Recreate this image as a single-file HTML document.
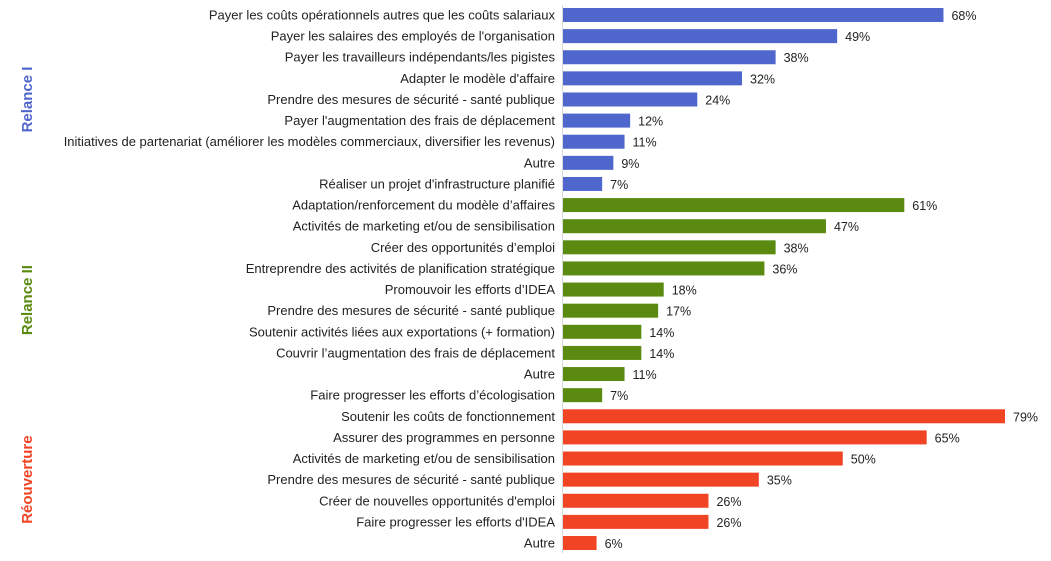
<!DOCTYPE html>
<html><head><meta charset="utf-8"><style>
body{margin:0;background:#fff;}
svg{display:block;font-family:"Liberation Sans",sans-serif;}
</style></head><body>
<svg id="chart" width="1051" height="561" viewBox="0 0 1051 561"></svg>
<script>
const labels = [
"Payer les coûts opérationnels autres que les coûts salariaux",
"Payer les salaires des employés de l'organisation",
"Payer les travailleurs indépendants/les pigistes",
"Adapter le modèle d'affaire",
"Prendre des mesures de sécurité - santé publique",
"Payer l'augmentation des frais de déplacement",
"Initiatives de partenariat (améliorer les modèles commerciaux, diversifier les revenus)",
"Autre",
"Réaliser un projet d'infrastructure planifié",
"Adaptation/renforcement du modèle d’affaires",
"Activités de marketing et/ou de sensibilisation",
"Créer des opportunités d’emploi",
"Entreprendre des activités de planification stratégique",
"Promouvoir les efforts d’IDEA",
"Prendre des mesures de sécurité - santé publique",
"Soutenir activités liées aux exportations (+ formation)",
"Couvrir l’augmentation des frais de déplacement",
"Autre",
"Faire progresser les efforts d’écologisation",
"Soutenir les coûts de fonctionnement",
"Assurer des programmes en personne",
"Activités de marketing et/ou de sensibilisation",
"Prendre des mesures de sécurité - santé publique",
"Créer de nouvelles opportunités d'emploi",
"Faire progresser les efforts d'IDEA",
"Autre"];
const values = [68,49,38,32,24,12,11,9,7,61,47,38,36,18,17,14,14,11,7,79,65,50,35,26,26,6];
const groups = ["Relance I","Relance II","Réouverture"];
const groupSizes = [9,10,7];
const groupColors = ["#4f66cc","#5a8a10","#f04425"];

const NS="http://www.w3.org/2000/svg";
const svg=document.getElementById('chart');
const x0=563, pxPer=5.595, y0=15, pitch=21.12, bh=14;
const xs=v=>x0+v*pxPer;
const ys=i=>y0+i*pitch;
function mk(t,a){const e=document.createElementNS(NS,t);for(const k in a)e.setAttribute(k,a[k]);svg.appendChild(e);return e;}
const axis=mk('line',{x1:562.5,x2:562.5,y1:5,y2:553,stroke:'#d9d9d9','stroke-width':1});


let idx=0;
groups.forEach((g,gi)=>{
  const start=idx;
  for(let k=0;k<groupSizes[gi];k++,idx++){
    const i=idx, cy=ys(i);
    const r=mk('rect',{x:x0,y:cy-bh/2,width:xs(values[i])-x0,height:bh,fill:groupColors[gi]});
    
    
    const l=mk('text',{x:555,y:cy+4.5,'text-anchor':'end','font-size':13,fill:'#222'});
    l.textContent=labels[i];
    
    
    const v=mk('text',{x:xs(values[i])+8,y:cy+5,'font-size':12.5,fill:'#222'});
    v.textContent=values[i]+'%';
    
    
  }
  const cy=(ys(start)+ys(idx-1))/2;
  const t=mk('text',{x:0,y:0,'text-anchor':'middle','font-size':15,'font-weight':'bold',fill:groupColors[gi],transform:`translate(32,${cy}) rotate(-90)`});
  t.textContent=g;
  
  
});
</script>
</body></html>
